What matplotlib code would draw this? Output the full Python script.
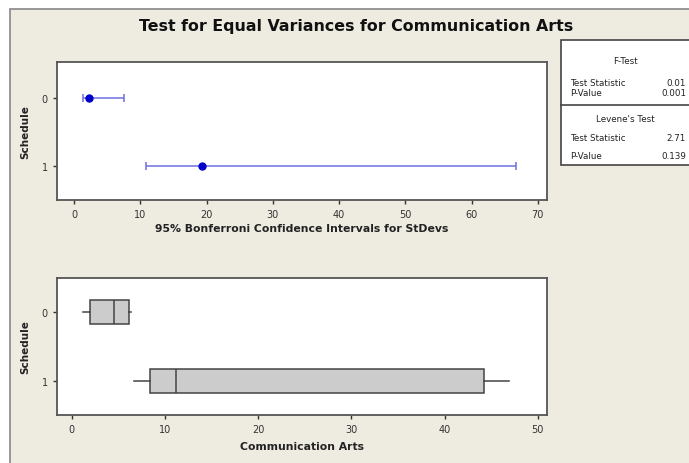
import numpy as np
import matplotlib.pyplot as plt
from matplotlib.patches import Rectangle

W, H = 689, 464

# Bonferroni CIs for StDev, per schedule group
groups = ['0', '1']
ci_low = [1.4, 10.8]
ci_est = [2.3, 19.3]
ci_high = [7.5, 66.7]

# boxplot stats per group
wlo = [1.2, 6.7]
q1 = [1.9, 8.4]
med = [4.5, 11.2]
q3 = [6.1, 44.2]
whi = [6.3, 46.9]

ftest = [('Test Statistic', '0.01'), ('P-Value', '0.001')]
levene = [('Test Statistic', '2.71'), ('P-Value', '0.139')]

bg = '#EEEBE1'
edge = '#555555'
tickc = '#333333'

fig = plt.figure(figsize=(W / 100, H / 100), dpi=100, facecolor='white')

# pixel-space overlay for frame, title and table
bgax = fig.add_axes([0, 0, 1, 1], zorder=-1)
bgax.set_xlim(0, W)
bgax.set_ylim(H, 0)
bgax.axis('off')
bgax.add_patch(Rectangle((10, 10), W + 20, H + 20, facecolor=bg, edgecolor='#888888', lw=1.2))
bgax.text(356, 26, 'Test for Equal Variances for Communication Arts', ha='center', va='center',
          fontsize=11.4, fontweight='bold', color='#111111')

# stats table
over = fig.add_axes([0, 0, 1, 1], zorder=5)
over.set_xlim(0, W)
over.set_ylim(H, 0)
over.axis('off')
over.add_patch(Rectangle((561, 41), 140, 125, facecolor='white', edgecolor='#444444', lw=1.2))
over.plot([561, 700], [106, 106], color='#444444', lw=1.2)
fs = 6.3
over.text(625, 61, 'F-Test', ha='center', va='center', fontsize=fs, color='#222222')
for (lab, val), y in zip(ftest, [83, 94]):
    over.text(570, y, lab, ha='left', va='center', fontsize=fs, color='#222222')
    over.text(686, y, val, ha='right', va='center', fontsize=fs, color='#222222')
over.text(625, 119, "Levene's Test", ha='center', va='center', fontsize=fs, color='#222222')
for (lab, val), y in zip(levene, [139, 157]):
    over.text(570, y, lab, ha='left', va='center', fontsize=fs, color='#222222')
    over.text(686, y, val, ha='right', va='center', fontsize=fs, color='#222222')


def style(ax):
    ax.set_facecolor('white')
    for s in ax.spines.values():
        s.set_color(edge)
        s.set_linewidth(1.3)
    ax.tick_params(direction='out', length=3, width=1, colors=tickc, labelsize=7)
    ax.set_ylabel('Schedule', fontsize=7.5, fontweight='bold', color='#222222', labelpad=8)


# top: confidence intervals
ax1 = fig.add_axes([57 / W, 1 - 201 / H, 490 / W, 138 / H])
style(ax1)
y = np.arange(len(groups))
est = np.array(ci_est)
err = [est - np.array(ci_low), np.array(ci_high) - est]
ax1.errorbar(est, y, xerr=err, fmt='none', ecolor='#6F6FE0', elinewidth=1.1, capsize=3, capthick=1.1)
ax1.plot(est, y, 'o', color='#0000C8', ms=5)
ax1.set_xlim(-2.6, 71.4)
ax1.set_ylim(1.5, -0.53)
ax1.set_yticks(y)
ax1.set_yticklabels(groups)
ax1.set_xticks(range(0, 71, 10))
ax1.set_xlabel('95% Bonferroni Confidence Intervals for StDevs', fontsize=7.8, fontweight='bold',
               color='#222222', labelpad=3)

# bottom: boxplots
ax2 = fig.add_axes([57 / W, 1 - 416 / H, 490 / W, 137 / H])
style(ax2)
stats = [dict(whislo=a, q1=b, med=c, q3=d, whishi=e, fliers=[]) for a, b, c, d, e in zip(wlo, q1, med, q3, whi)]
ax2.bxp(stats, positions=y, orientation='horizontal', widths=0.35, showcaps=False, patch_artist=True,
        boxprops=dict(facecolor='#CCCCCC', edgecolor='#444444', lw=1.1),
        medianprops=dict(color='#444444', lw=1.1),
        whiskerprops=dict(color='#444444', lw=1.1))
ax2.set_xlim(-1.6, 51)
ax2.set_ylim(1.49, -0.49)
ax2.set_yticks(y)
ax2.set_yticklabels(groups)
ax2.set_xticks(range(0, 51, 10))
ax2.set_xticklabels([str(v) for v in range(0, 51, 10)])
ax2.set_xlabel('Communication Arts', fontsize=7.8, fontweight='bold', color='#222222', labelpad=5)

fig.savefig('out.png', dpi=100, facecolor=fig.get_facecolor())
